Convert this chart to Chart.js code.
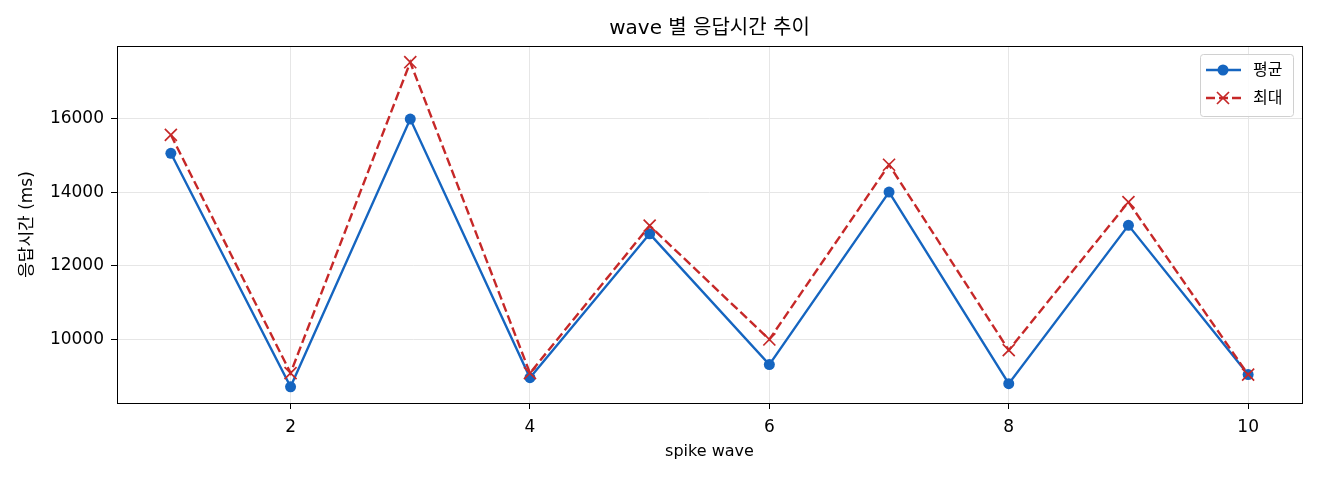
<!DOCTYPE html>
<html>
<head>
<meta charset="utf-8">
<script src="https://cdn.jsdelivr.net/npm/chart.js@4"></script>
<style>
  body { margin: 0; background: #fff; }
  #wrap { width: 1320px; height: 480px; }
</style>
</head>
<body>
<div id="wrap"><canvas id="chart" width="1320" height="480"></canvas></div>
<script>
// 데이터
const waves = [1, 2, 3, 4, 5, 6, 7, 8, 9, 10];
const avgMs = [15050, 8730, 15975, 8975, 12870, 9330, 14000, 8815, 13100, 9060];
const maxMs = [15550, 9100, 17515, 9100, 13090, 10010, 14740, 9720, 13730, 9060];
const xTicks = [2, 4, 6, 8, 10];
const yTicks = [10000, 12000, 14000, 16000];
const seriesNames = ['평균', '최대'];
const chartTitle = 'wave 별 응답시간 추이';

const BLUE = '#1565c0';
const RED = '#c62828';
const GRID = '#e6e6e6';
const FONT = "'DejaVu Sans', 'Noto Sans CJK KR', sans-serif";

Chart.defaults.font.family = FONT;
Chart.defaults.color = '#000';

// matplotlib 기본 여백 5%
function padRange(vals) {
    const lo = Math.min(...vals), hi = Math.max(...vals);
    const m = (hi - lo) * 0.05;
    return [lo - m, hi + m];
}
const [xMin, xMax] = padRange(waves);
const [yMin, yMax] = padRange(avgMs.concat(maxMs));

// 제목(축 영역 기준 가운데) + 범례 + 테두리
const framePlugin = {
    id: 'frame',
    afterDraw(chart) {
        const { ctx, chartArea: a } = chart;
        ctx.save();
        ctx.strokeStyle = '#000';
        ctx.lineWidth = 1;
        ctx.strokeRect(Math.round(a.left) + 0.5, Math.round(a.top) + 0.5,
            Math.round(a.right - a.left), Math.round(a.bottom - a.top));

        ctx.fillStyle = '#000';
        ctx.font = '20px ' + FONT;
        ctx.textAlign = 'center';
        ctx.textBaseline = 'middle';
        ctx.fillText(chartTitle, (a.left + a.right) / 2, 29);
        ctx.textAlign = 'left';

        // 범례 박스
        const bx = 1200, by = 54, bw = 93, bh = 62;
        ctx.fillStyle = 'rgba(255,255,255,0.85)';
        ctx.strokeStyle = '#d0d0d0';
        ctx.beginPath();
        ctx.roundRect(bx + 0.5, by + 0.5, bw, bh, 3);
        ctx.fill();
        ctx.stroke();

        chart.data.datasets.forEach((ds, i) => {
            const cy = by + 16 + i * 28;
            const mx = bx + 23;
            ctx.strokeStyle = ds.borderColor;
            ctx.lineWidth = ds.borderWidth;
            ctx.setLineDash(ds.borderDash || []);
            ctx.beginPath();
            ctx.moveTo(bx + 6, cy);
            ctx.lineTo(bx + 41, cy);
            ctx.stroke();
            ctx.setLineDash([]);
            ctx.fillStyle = ds.pointBackgroundColor;
            ctx.strokeStyle = ds.pointBorderColor;
            ctx.lineWidth = ds.pointBorderWidth;
            ctx.beginPath();
            if (ds.pointStyle === 'circle') {
                ctx.arc(mx, cy, ds.pointRadius, 0, Math.PI * 2);
                ctx.fill();
            } else {
                const r = ds.pointRadius * Math.SQRT1_2;
                ctx.moveTo(mx - r, cy - r); ctx.lineTo(mx + r, cy + r);
                ctx.moveTo(mx + r, cy - r); ctx.lineTo(mx - r, cy + r);
                ctx.stroke();
            }
            ctx.fillStyle = '#000';
            ctx.font = '16px ' + FONT;
            ctx.textBaseline = 'middle';
            ctx.fillText(ds.label, bx + 53, cy + 1);
        });
        ctx.restore();
    }
};

new Chart(document.getElementById('chart'), {
    type: 'line',
    data: {
        datasets: [
            {
                label: seriesNames[0],
                data: waves.map((w, i) => ({ x: w, y: avgMs[i] })),
                borderColor: BLUE,
                backgroundColor: BLUE,
                borderWidth: 2.4,
                pointStyle: 'circle',
                pointRadius: 5.5,
                pointBackgroundColor: BLUE,
                pointBorderColor: BLUE,
                pointBorderWidth: 0,
                tension: 0,
                order: 1
            },
            {
                label: seriesNames[1],
                data: waves.map((w, i) => ({ x: w, y: maxMs[i] })),
                borderColor: RED,
                backgroundColor: RED,
                borderWidth: 2.4,
                borderDash: [9, 4],
                pointStyle: 'crossRot',
                pointRadius: 8.5,
                pointBackgroundColor: RED,
                pointBorderColor: RED,
                pointBorderWidth: 1.7,
                tension: 0,
                order: 0
            }
        ]
    },
    options: {
        responsive: false,
        devicePixelRatio: 1,
        animation: false,
        layout: { padding: { left: 0, right: 18, top: 46, bottom: 0 } },
        plugins: {
            legend: { display: false },
            tooltip: { enabled: false },
            title: { display: false }
        },
        scales: {
            x: {
                type: 'linear',
                min: xMin,
                max: xMax,
                afterBuildTicks: s => { s.ticks = xTicks.map(v => ({ value: v })); },
                afterFit: s => { s.height = 77; },
                ticks: { font: { size: 17 }, padding: 8, callback: v => String(v) },
                grid: { color: GRID, lineWidth: 1, tickColor: '#000', tickLength: 6 },
                border: { display: false },
                title: {
                    display: true,
                    text: 'spike wave',
                    font: { size: 16 },
                    padding: { top: 0, bottom: 19 }
                }
            },
            y: {
                type: 'linear',
                min: yMin,
                max: yMax,
                afterBuildTicks: s => { s.ticks = yTicks.map(v => ({ value: v })); },
                afterFit: s => { s.width = 117; },
                ticks: { font: { size: 17 }, padding: 7, callback: v => String(v) },
                grid: { color: GRID, lineWidth: 1, tickColor: '#000', tickLength: 6 },
                border: { display: false },
                title: {
                    display: true,
                    text: '응답시간 (ms)',
                    font: { size: 17 },
                    padding: { top: 17, bottom: 0 }
                }
            }
        }
    },
    plugins: [framePlugin]
});
</script>
</body>
</html>
